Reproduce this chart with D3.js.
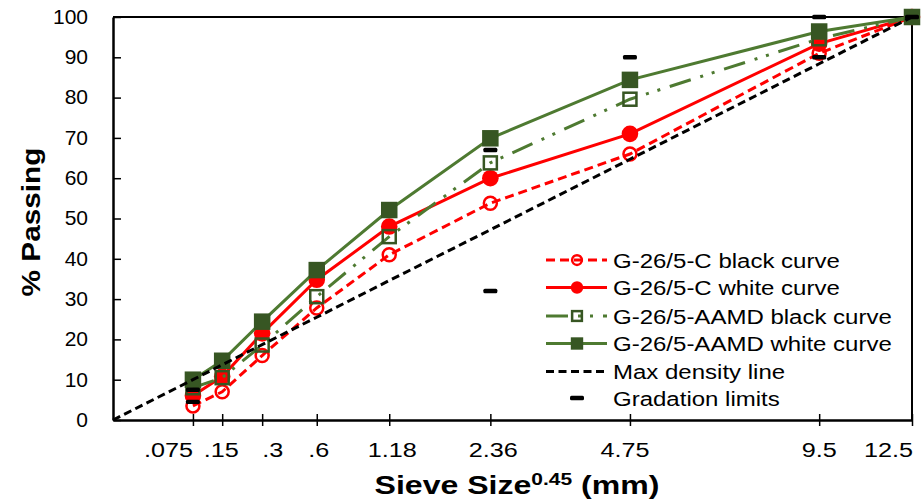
<!DOCTYPE html>
<html>
<head>
<meta charset="utf-8">
<script src="https://cdn.jsdelivr.net/npm/d3@7"></script>
<style>
  html, body { margin: 0; padding: 0; background: #fff; }
  svg { display: block; font-family: Arial, "Liberation Sans", sans-serif; }
</style>
</head>
<body>
<svg id="chart" width="922" height="504"></svg>
<script>
// ---------------- data ----------------
const sieves = [0.075, 0.15, 0.3, 0.6, 1.18, 2.36, 4.75, 9.5, 12.5];
const tickLabels = [".075", ".15", ".3", ".6", "1.18", "2.36", "4.75", "9.5", "12.5"];
const yTicks = [0, 10, 20, 30, 40, 50, 60, 70, 80, 90, 100];

const cBlackCurve = [3.5, 7, 16, 27.8, 41, 53.8, 66, 91, 100];
const cWhiteCurve = [6, 10.8, 21.5, 34.8, 48, 60, 71, 93.4, 100];
const aamdBlackCurve = [8, 10.5, 18.6, 30.6, 45.5, 63.8, 79.6, 94.6, 100];
const aamdWhiteCurve = [10, 14.7, 24.4, 37.2, 52.1, 69.9, 84.4, 96.4, 100];

const maxDensitySieves = [0, 0.075, 0.15, 0.3, 0.6, 1.18, 2.36, 4.75, 9.5, 12.5];
const maxDensityValues = [0, 10.0, 13.7, 18.7, 25.5, 34.6, 47.2, 64.7, 88.4, 100];

const limitSieves = [0.075, 0.075, 2.36, 2.36, 4.75, 9.5, 9.5, 12.5];
const limitValues = [4.5, 7.5, 32, 67, 90, 90, 100, 100];

const seriesNames = [
  "G-26/5-C black curve",
  "G-26/5-C white curve",
  "G-26/5-AAMD black curve",
  "G-26/5-AAMD white curve",
  "Max density line",
  "Gradation limits"
];

// ---------------- setup ----------------
const svg = d3.select("#chart");
const pL = 113, pR = 912, pT = 17, pB = 420;
const x = d3.scalePow().exponent(0.45).domain([0, 12.5]).range([pL, pR]);
const y = d3.scaleLinear().domain([0, 100]).range([pB, pT]);

const RED = "#ff0000";
const GREEN_LINE = "#4e7a31";
const GREEN_MARK = "#375623";

function stretch(sel, f, ax) {
  sel.attr("transform", `translate(${ax},0) scale(${f},1) translate(${-ax},0)`);
}

// ---------------- frame ----------------
svg.append("line").attr("x1", pL).attr("x2", pR).attr("y1", pT).attr("y2", pT)
  .attr("stroke", "#000").attr("stroke-width", 2);
svg.append("line").attr("x1", pR).attr("x2", pR).attr("y1", pT).attr("y2", pB)
  .attr("stroke", "#000").attr("stroke-width", 2);

// ---------------- series ----------------
const line = d3.line().x(d => x(d[0])).y(d => y(d[1]));
const plot = svg.append("g");

function drawMarker(g, cx, cy, type, k) {
  if (type === "openCircle") {
    g.append("circle").attr("cx", cx).attr("cy", cy).attr("r", 6.5 * k)
      .attr("fill", "none").attr("stroke", RED).attr("stroke-width", 2.5);
  } else if (type === "filledCircle") {
    g.append("circle").attr("cx", cx).attr("cy", cy).attr("r", 8.3 * k).attr("fill", RED);
  } else if (type === "openSquare") {
    const s = 13 * k;
    g.append("rect").attr("x", cx - s / 2).attr("y", cy - s / 2).attr("width", s).attr("height", s)
      .attr("fill", "none").attr("stroke", GREEN_MARK).attr("stroke-width", 2.5);
  } else if (type === "filledSquare") {
    const s = 16.5 * k;
    g.append("rect").attr("x", cx - s / 2).attr("y", cy - s / 2).attr("width", s).attr("height", s)
      .attr("fill", GREEN_MARK);
  } else if (type === "bar") {
    g.append("rect").attr("x", cx - 7).attr("y", cy - 2.2).attr("width", 14).attr("height", 4.4)
      .attr("rx", 1.5).attr("fill", "#000");
  }
}

function drawSeries(vals, opts) {
  const pts = sieves.map((s, i) => [s, vals[i]]);
  plot.append("path").attr("d", line(pts)).attr("fill", "none")
    .attr("stroke", opts.lineColor).attr("stroke-width", 3)
    .attr("stroke-dasharray", opts.dash || null);
  const g = plot.append("g");
  pts.forEach(p => drawMarker(g, x(p[0]), y(p[1]), opts.marker, 1));
}

const styles = [
  { lineColor: RED, dash: "9,5", marker: "openCircle" },
  { lineColor: RED, dash: null, marker: "filledCircle" },
  { lineColor: GREEN_LINE, dash: "22,10,3,9,3,10", marker: "openSquare" },
  { lineColor: GREEN_LINE, dash: null, marker: "filledSquare" }
];
drawSeries(cBlackCurve, styles[0]);
drawSeries(cWhiteCurve, styles[1]);
drawSeries(aamdBlackCurve, styles[2]);
drawSeries(aamdWhiteCurve, styles[3]);

// max density line
plot.append("path")
  .attr("d", line(maxDensitySieves.map((s, i) => [s, maxDensityValues[i]])))
  .attr("fill", "none").attr("stroke", "#000").attr("stroke-width", 3)
  .attr("stroke-dasharray", "8,4.5");

// gradation limits
const lg = plot.append("g");
limitSieves.forEach((s, i) => drawMarker(lg, x(s), y(limitValues[i]), "bar", 1));

// ---------------- axes ----------------
const yAxis = d3.axisLeft(y).tickValues(yTicks).tickSizeInner(-8).tickSizeOuter(0).tickPadding(25);
const gy = svg.append("g").attr("transform", `translate(${pL},0)`).call(yAxis);
gy.select(".domain").attr("stroke-width", 2.5);
gy.selectAll(".tick line").attr("stroke-width", 1.5);
gy.selectAll(".tick text").attr("font-size", 21).attr("fill", "#000")
  .attr("font-family", "Arial, 'Liberation Sans', sans-serif")
  .attr("dy", "0.3em");

const xAxis = d3.axisBottom(x).tickValues(sieves).tickSizeInner(6).tickSizeOuter(0).tickFormat("");
const gx = svg.append("g").attr("transform", `translate(0,${pB})`).call(xAxis);
gx.select(".domain").attr("stroke-width", 2.5);
gx.selectAll(".tick line").attr("y1", -6).attr("y2", 6).attr("stroke-width", 1.5);

// x tick labels (anchors mimic the original layout)
const anchors = ["end", "middle", "start", "middle", "middle", "middle", "middle", "middle", "end"];
const nudges = [0, -1, 0, 2, 3, 3, -5, 0, 1];
tickLabels.forEach((t, i) => {
  const px = x(sieves[i]) + nudges[i];
  const tx = svg.append("text").attr("x", px).attr("y", 457)
    .attr("text-anchor", anchors[i]).attr("font-size", 21).attr("fill", "#000").text(t);
  stretch(tx, 1.2, px);
});

// ---------------- titles ----------------
const xt = svg.append("text").attr("x", 517).attr("y", 494).attr("text-anchor", "middle")
  .attr("font-size", 26).attr("font-weight", "bold").attr("fill", "#000");
xt.append("tspan").text("Sieve Size");
xt.append("tspan").attr("font-size", 17).attr("dy", -9).text("0.45");
xt.append("tspan").attr("dy", 9).text(" (mm)");
{
  const w = xt.node().getBBox().width;
  stretch(xt, 285 / w, 517);
}

const yg = svg.append("g").attr("transform", "translate(40,222) rotate(-90)");
const ytt = yg.append("text").attr("x", 0).attr("y", 0).attr("text-anchor", "middle")
  .attr("font-size", 26).attr("font-weight", "bold").attr("fill", "#000").text("% Passing");
{
  const w = ytt.node().getComputedTextLength();
  stretch(ytt, 149 / w, 0);
}

// ---------------- legend ----------------
const legendRows = [260, 287.5, 316, 343.5, 371.5, 398];
const legend = svg.append("g");
const lx1 = 546, lx2 = 607, lmx = 577, ltx = 613;
let maxW = 0;
const legTexts = [];
seriesNames.forEach((name, i) => {
  const cy = legendRows[i];
  if (i < 4) {
    legend.append("line").attr("x1", lx1).attr("x2", lx2).attr("y1", cy).attr("y2", cy)
      .attr("stroke", styles[i].lineColor).attr("stroke-width", 3)
      .attr("stroke-dasharray", styles[i].dash || null);
    drawMarker(legend, lmx, cy, styles[i].marker, 0.75);
  } else if (i === 4) {
    legend.append("line").attr("x1", lx1).attr("x2", lx2).attr("y1", cy).attr("y2", cy)
      .attr("stroke", "#000").attr("stroke-width", 3).attr("stroke-dasharray", "8,4.5");
  } else {
    drawMarker(legend, lmx, cy, "bar", 1);
  }
  const t = legend.append("text").attr("x", ltx).attr("y", cy).attr("dy", "0.36em")
    .attr("font-size", 21).attr("fill", "#000").text(name);
  legTexts.push(t);
  maxW = Math.max(maxW, t.node().getComputedTextLength());
});
legTexts.forEach(t => stretch(t, 279 / maxW, ltx));
</script>
</body>
</html>
